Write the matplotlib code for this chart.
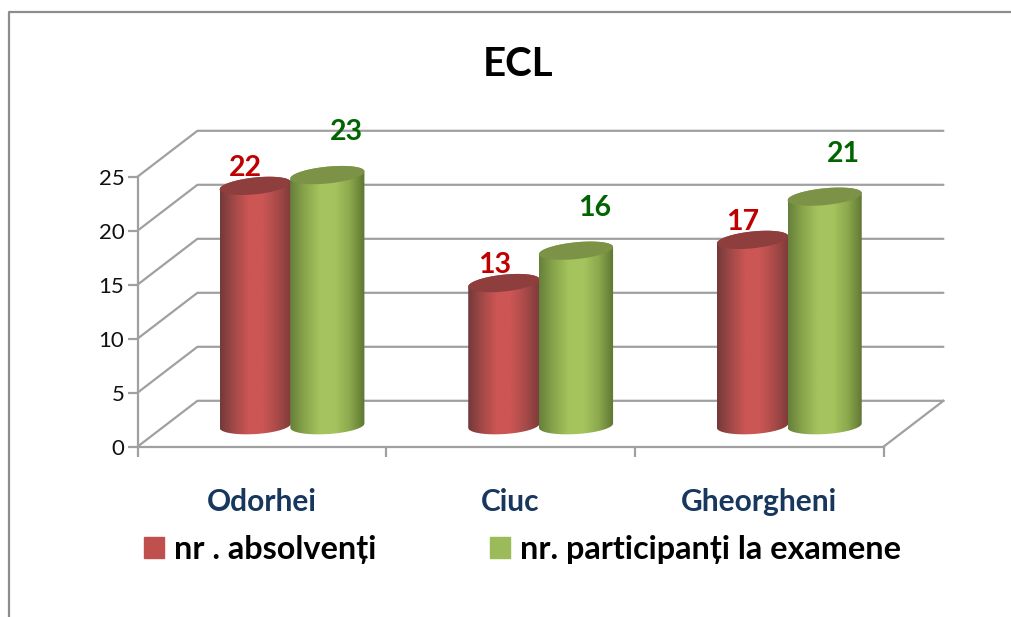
import numpy as np
import matplotlib
matplotlib.use("Agg")
import matplotlib.pyplot as plt
from matplotlib.colors import LinearSegmentedColormap
from matplotlib.lines import Line2D
from matplotlib.patches import Patch, Polygon

plt.rcParams["font.family"] = ["Lato", "DejaVu Sans"]

title = "ECL"
categories = ["Odorhei", "Ciuc", "Gheorgheni"]
absolventi = [22, 13, 17]
participanti = [23, 16, 21]
series_names = ["nr . absolvenți", "nr. participanți la examene"]
y_ticks = [0, 5, 10, 15, 20, 25]

W, H = 1011, 617
GRID = "#a0a0a0"
DEPTH_X, DEPTH_Y = 0.241, 4.25   # oblique shift of the back wall, in data units
HALF_Y = 0.78                    # half height of the ellipse in y units

red_map = LinearSegmentedColormap.from_list(
    "red", ["#74393a", "#a34a48", "#cd5654", "#cb5654", "#a84b49", "#7d3b39"])
green_map = LinearSegmentedColormap.from_list(
    "green", ["#66803a", "#8aa64c", "#a6c45e", "#a6c45e", "#8ca94d", "#5e7532"])


def arc(cx, cy, half_w, tilt, t):
    return cx + half_w * np.cos(t), cy + HALF_Y * np.sin(t) + tilt * np.cos(t)


def cylinder(ax, x, value, width, cmap, cap_color):
    cx = x + DEPTH_X / 2
    base_y = 1.95
    top_y = value + 2.15
    t_up = np.linspace(np.pi, 0, 60)
    t_down = np.linspace(0, -np.pi, 60)
    top_x, top_v = arc(cx, top_y, width / 2, 0.33, t_up)
    bot_x, bot_v = arc(cx, base_y, width / 2, 0.2, t_down)
    outline = np.column_stack([np.r_[top_x, bot_x], np.r_[top_v, bot_v]])
    grad = np.linspace(0, 1, 128).reshape(1, -1)
    im = ax.imshow(grad, cmap=cmap, aspect="auto", zorder=3,
                   extent=[cx - width / 2, cx + width / 2, 0, top_y + 2])
    im.set_clip_box(ax.figure.bbox)
    im.set_clip_path(Polygon(outline, transform=ax.transData))
    t = np.linspace(0, 2 * np.pi, 120)
    cap_x, cap_v = arc(cx, top_y, width / 2, 0.33, t)
    ax.fill(cap_x, cap_v, color=cap_color, lw=0, zorder=3, clip_on=False)
    return cx, top_y


fig = plt.figure(figsize=(W / 100, H / 100), dpi=100)
ax = fig.add_axes([137.5 / W, 1 - 446.7 / H, 746 / W, 270 / H])
x = np.arange(len(categories))

# back wall, side wall and floor
for v in y_ticks:
    ax.plot([-0.5, -0.5 + DEPTH_X, 2.5 + DEPTH_X], [v, v + DEPTH_Y, v + DEPTH_Y],
            color=GRID, lw=1.6, clip_on=False, zorder=1, solid_capstyle="round")
ax.plot([2.5, 2.5 + DEPTH_X], [0, DEPTH_Y], color=GRID, lw=1.6, clip_on=False, zorder=1)

for i, pos in enumerate(x):
    cx, top = cylinder(ax, pos - 0.147, absolventi[i], 0.287, red_map, "#8e3f3d")
    ax.annotate(str(absolventi[i]), (cx, top), xytext=(-7, 3.5), textcoords="offset points",
                ha="center", va="bottom", fontsize=20.5, fontweight="bold", color="#c00000",
                annotation_clip=False, zorder=5)
    cx, top = cylinder(ax, pos + 0.143, participanti[i], 0.298, green_map, "#7c9347")
    ax.annotate(str(participanti[i]), (cx, top), xytext=(13.5, 21.5), textcoords="offset points",
                ha="center", va="bottom", fontsize=20.5, fontweight="bold", color="#006400",
                annotation_clip=False, zorder=5)

ax.set_xlim(-0.5, 2.5)
ax.set_ylim(0, 25)
ax.patch.set_visible(False)
for side in ["top", "right"]:
    ax.spines[side].set_visible(False)
for side in ["left", "bottom"]:
    ax.spines[side].set_color(GRID)
    ax.spines[side].set_linewidth(1.6)
    ax.spines[side].set_zorder(2)

ax.set_yticks(y_ticks)
ax.set_xticks([-0.5, 0.5, 1.5, 2.5])
ax.set_xticklabels([])
ax.set_xticks(x, categories, minor=True)
ax.tick_params(axis="both", which="major", color=GRID, width=1.6, length=7.5)
ax.tick_params(axis="y", labelsize=16, pad=2, labelcolor="#111111")
ax.tick_params(axis="x", which="minor", length=0, pad=30, labelsize=21.5, labelcolor="#17375e")
for lab in ax.get_xticklabels(minor=True):
    lab.set_fontweight("bold")

fig.text(518 / W, 1 - 65 / H, title, ha="center", va="center", fontsize=29, fontweight="bold")

handles = [Patch(color="#c0504d", label=series_names[0]), Patch(color="#9bbb59", label=series_names[1])]
fig.legend(handles=handles, loc="center left", bbox_to_anchor=(144 / W, 1 - 549 / H), ncol=2,
           frameon=False, borderpad=0, borderaxespad=0, prop={"size": 23.3, "weight": "bold"},
           handlelength=0.62, handleheight=0.62, handletextpad=0.31, columnspacing=3.5)

# chart frame, cut off by the right and bottom of the picture
fig.add_artist(Line2D([9 / W, 9 / W, 1], [0, 1 - 12 / H, 1 - 12 / H], color="#8c8c8c", lw=1.6))

fig.savefig("out.png", dpi=100)
